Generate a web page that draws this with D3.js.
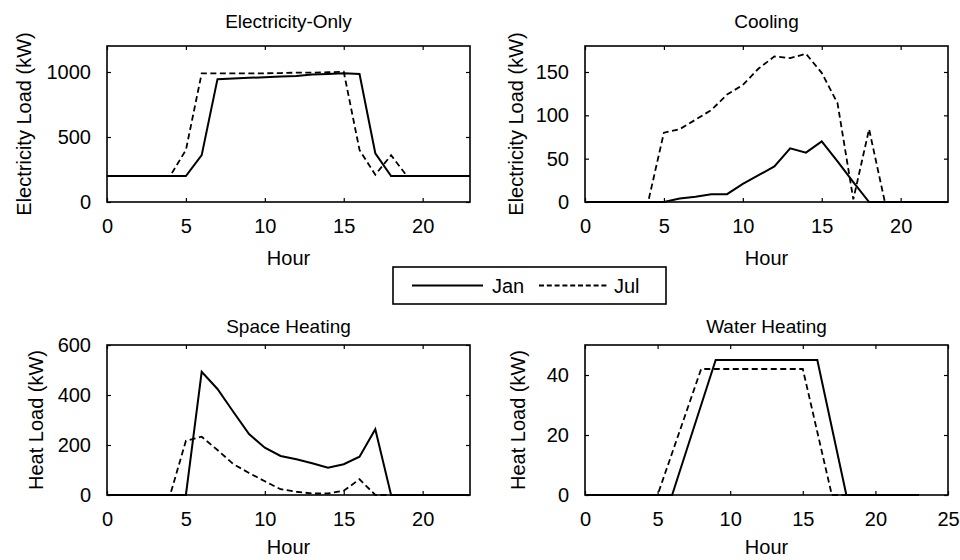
<!DOCTYPE html>
<html>
<head>
<meta charset="utf-8">
<script src="https://cdn.jsdelivr.net/npm/d3@7"></script>
<style>
  html, body { margin: 0; padding: 0; background: #fff; }
  svg text { font-family: "Liberation Sans", Arial, Helvetica, sans-serif; fill: #000; }
</style>
</head>
<body>
<svg id="chart" width="960" height="560"></svg>
<script>
// ---------- data ----------
const hours = [0,1,2,3,4,5,6,7,8,9,10,11,12,13,14,15,16,17,18,19,20,21,22,23];
const seriesNames = ["Jan", "Jul"];

const elecJan = [200,200,200,200,200,200,360,945,950,955,960,965,970,980,985,990,985,375,200,200,200,200,200,200];
const elecJul = [200,200,200,200,200,400,990,990,990,990,990,992,995,995,998,1002,400,210,360,200,200,200,200,200];

const coolJan = [0,0,0,0,0,0,4,6,9,9,21,31,41,62,57,70,47,23,0,0,0,0,0,0];
const coolJul = [0,0,0,0,0,80,84,95,106,124,135,154,168,166,171,149,114,3,84,0,0,0,0,0];

const spaceJan = [0,0,0,0,0,0,493,424,333,244,189,156,143,127,109,123,153,263,0,0,0,0,0,0];
const spaceJul = [0,0,0,0,0,217,233,180,124,88,55,23,13,6,6,17,63,0,0,0,0,0,0,0];

const waterJan = [0,0,0,0,0,0,0,15,30,45,45,45,45,45,45,45,45,22.5,0,0,0,0,0,0];
const waterJul = [0,0,0,0,0,0,14,28,42,42,42,42,42,42,42,42,21,0,0,0,0,0,0,0];

const titles = ["Electricity-Only", "Cooling", "Space Heating", "Water Heating"];
const yLabels = ["Electricity Load (kW)", "Electricity Load (kW)", "Heat Load (kW)", "Heat Load (kW)"];
const xLabel = "Hour";
const xTicksA = [0,5,10,15,20];
const xTicksB = [0,5,10,15,20,25];
const yTicks1 = [0,500,1000];
const yTicks2 = [0,50,100,150];
const yTicks3 = [0,200,400,600];
const yTicks4 = [0,20,40];

// ---------- layout ----------
const FONT = 20;
const panels = [
  {title: titles[0], ylab: yLabels[0], jan: elecJan, jul: elecJul, x0: 107, x1: 470, y0: 46, y1: 202, xmax: 23, ymax: 1200, xt: xTicksA, yt: yTicks1, ylx: 24, ty: 28, xly: 265},
  {title: titles[1], ylab: yLabels[1], jan: coolJan, jul: coolJul, x0: 585, x1: 948, y0: 46, y1: 202, xmax: 23, ymax: 180, xt: xTicksA, yt: yTicks2, ylx: 516, ty: 28, xly: 265},
  {title: titles[2], ylab: yLabels[2], jan: spaceJan, jul: spaceJul, x0: 107, x1: 470, y0: 345, y1: 495, xmax: 23, ymax: 600, xt: xTicksA, yt: yTicks3, ylx: 36, ty: 333, xly: 554},
  {title: titles[3], ylab: yLabels[3], jan: waterJan, jul: waterJul, x0: 585, x1: 948, y0: 345, y1: 495, xmax: 25, ymax: 50, xt: xTicksB, yt: yTicks4, ylx: 518, ty: 333, xly: 554}
];

const svg = d3.select("#chart");
const DASH = "6,3.5";

panels.forEach(p => {
  const x = d3.scaleLinear().domain([0, p.xmax]).range([p.x0, p.x1]);
  const y = d3.scaleLinear().domain([0, p.ymax]).range([p.y1, p.y0]);
  const g = svg.append("g");

  const line = d3.line().x((d, i) => x(hours[i])).y(d => y(d));

  // data lines
  g.append("path").datum(p.jul).attr("d", line)
    .attr("fill", "none").attr("stroke", "#000").attr("stroke-width", 1.8)
    .attr("stroke-dasharray", DASH);
  g.append("path").datum(p.jan).attr("d", line)
    .attr("fill", "none").attr("stroke", "#000").attr("stroke-width", 2);

  // axes (ticks inward)
  const ax = g.append("g").attr("transform", `translate(0,${p.y1})`)
    .call(d3.axisBottom(x).tickValues(p.xt).tickSize(-4).tickPadding(17).tickFormat(d3.format("d")));
  const axTop = g.append("g").attr("transform", `translate(0,${p.y0})`)
    .call(d3.axisTop(x).tickValues(p.xt).tickSize(-4).tickFormat(""));
  const ay = g.append("g").attr("transform", `translate(${p.x0},0)`)
    .call(d3.axisLeft(y).tickValues(p.yt).tickSize(-4).tickPadding(16).tickFormat(d3.format("d")));
  const ayR = g.append("g").attr("transform", `translate(${p.x1},0)`)
    .call(d3.axisRight(y).tickValues(p.yt).tickSize(-4).tickFormat(""));

  [ax, axTop, ay, ayR].forEach(a => {
    a.select(".domain").remove();
    a.selectAll(".tick line").attr("stroke", "#000").attr("stroke-width", 1.2);
    a.selectAll("text").attr("font-size", FONT).attr("fill", "#000");
  });

  // frame
  g.append("rect").attr("x", p.x0).attr("y", p.y0)
    .attr("width", p.x1 - p.x0).attr("height", p.y1 - p.y0)
    .attr("fill", "none").attr("stroke", "#000").attr("stroke-width", 1.6);

  // title
  g.append("text").attr("x", (p.x0 + p.x1) / 2).attr("y", p.ty)
    .attr("text-anchor", "middle").attr("font-size", FONT - 1).text(p.title);
  // x label
  g.append("text").attr("x", (p.x0 + p.x1) / 2).attr("y", p.xly)
    .attr("text-anchor", "middle").attr("font-size", FONT).text(xLabel);
  // y label
  g.append("text")
    .attr("transform", `translate(${p.ylx},${(p.y0 + p.y1) / 2}) rotate(-90)`)
    .attr("text-anchor", "middle").attr("dy", "0.35em").attr("font-size", FONT).text(p.ylab);
});

// legend
const lg = svg.append("g");
lg.append("rect").attr("x", 393).attr("y", 267).attr("width", 273).attr("height", 37)
  .attr("fill", "#fff").attr("stroke", "#000").attr("stroke-width", 1.6);
lg.append("line").attr("x1", 412).attr("x2", 483).attr("y1", 285.5).attr("y2", 285.5)
  .attr("stroke", "#000").attr("stroke-width", 2);
lg.append("text").attr("x", 492).attr("y", 292.5).attr("font-size", FONT).text(seriesNames[0]);
lg.append("line").attr("x1", 539).attr("x2", 608).attr("y1", 285.5).attr("y2", 285.5)
  .attr("stroke", "#000").attr("stroke-width", 1.8).attr("stroke-dasharray", "5,2.8");
lg.append("text").attr("x", 614).attr("y", 292.5).attr("font-size", FONT).text(seriesNames[1]);
</script>
</body>
</html>
